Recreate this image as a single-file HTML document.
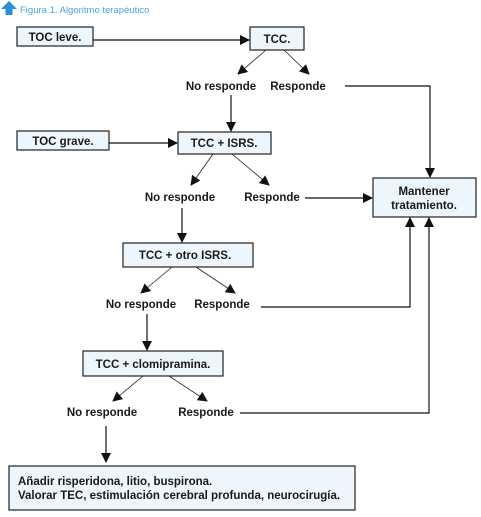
<!DOCTYPE html>
<html><head><meta charset="utf-8"><style>
html,body{margin:0;padding:0;background:#fff;}
svg{display:block}
text{font-family:"Liberation Sans",sans-serif;font-weight:bold;font-size:11.5px;fill:#1a1a1a}
</style></head><body>
<svg width="481" height="517" viewBox="0 0 481 517" xmlns="http://www.w3.org/2000/svg">
<defs><marker id="a" markerWidth="10" markerHeight="10" refX="9" refY="5" orient="auto" markerUnits="userSpaceOnUse"><path d="M0,0 L10,5 L0,10 z" fill="#111"/></marker></defs>
<path d="M1,9 L9,1 L17,9 L12.5,9 L12.5,15 L5.5,15 L5.5,9 z" fill="#2b8fd6"/>
<text x="20" y="13" style="font-weight:normal;font-size:9.5px;fill:#4aa3df">Figura 1. Algoritmo terapéutico</text>
<g fill="#eef6fd" stroke="#222" stroke-width="1.2">
<rect x="17" y="27" width="76" height="19"/>
<rect x="250" y="27" width="54" height="23"/>
<rect x="17" y="131" width="92" height="19"/>
<rect x="178" y="132" width="93" height="22"/>
<rect x="373" y="178" width="103" height="39"/>
<rect x="123" y="243" width="130" height="24"/>
<rect x="83" y="351" width="140" height="25"/>
<rect x="9" y="466" width="346" height="44"/>
</g>
<g stroke="#111" stroke-width="1.2" fill="none">
<line x1="93" y1="40" x2="249" y2="40" marker-end="url(#a)"/>
<polyline points="345,86 430,86 430,177" marker-end="url(#a)"/>
<line x1="231" y1="95" x2="231" y2="131" marker-end="url(#a)"/>
<line x1="109" y1="143" x2="177" y2="143" marker-end="url(#a)"/>
<line x1="305" y1="198" x2="372" y2="198" marker-end="url(#a)"/>
<line x1="182" y1="208" x2="182" y2="242" marker-end="url(#a)"/>
<polyline points="261,307 410,307 410,218" marker-end="url(#a)"/>
<line x1="147" y1="314" x2="147" y2="350" marker-end="url(#a)"/>
<polyline points="240,413 429,413 429,218" marker-end="url(#a)"/>
<line x1="106" y1="426" x2="106" y2="462" marker-end="url(#a)"/>
</g>
<g stroke="#222" stroke-width="0.8" fill="none">
<line x1="266" y1="50" x2="238" y2="74" marker-end="url(#a)"/>
<line x1="284" y1="50" x2="309" y2="74" marker-end="url(#a)"/>
<line x1="213" y1="154" x2="191" y2="185" marker-end="url(#a)"/>
<line x1="232" y1="154" x2="269" y2="185" marker-end="url(#a)"/>
<line x1="172" y1="267" x2="141" y2="293" marker-end="url(#a)"/>
<line x1="196" y1="267" x2="235" y2="293" marker-end="url(#a)"/>
<line x1="143" y1="376" x2="113" y2="401" marker-end="url(#a)"/>
<line x1="169" y1="376" x2="207" y2="401" marker-end="url(#a)"/>
</g>
<text x="55" y="41" text-anchor="middle">TOC leve.</text>
<text x="277" y="43" text-anchor="middle">TCC.</text>
<text x="221" y="90" text-anchor="middle">No responde</text>
<text x="298" y="90" text-anchor="middle">Responde</text>
<text x="63" y="145" text-anchor="middle">TOC grave.</text>
<text x="224" y="147" text-anchor="middle">TCC + ISRS.</text>
<text x="424" y="195" text-anchor="middle">Mantener</text>
<text x="424" y="209" text-anchor="middle">tratamiento.</text>
<text x="180" y="201" text-anchor="middle">No responde</text>
<text x="272" y="201" text-anchor="middle">Responde</text>
<text x="185" y="259" text-anchor="middle">TCC + otro ISRS.</text>
<text x="141" y="308" text-anchor="middle">No responde</text>
<text x="222" y="308" text-anchor="middle">Responde</text>
<text x="153" y="368" text-anchor="middle">TCC + clomipramina.</text>
<text x="102" y="416" text-anchor="middle">No responde</text>
<text x="206" y="416" text-anchor="middle">Responde</text>
<text x="18" y="485">Añadir risperidona, litio, buspirona.</text>
<text x="18" y="499">Valorar TEC, estimulación cerebral profunda, neurocirugía.</text>
</svg>
</body></html>
